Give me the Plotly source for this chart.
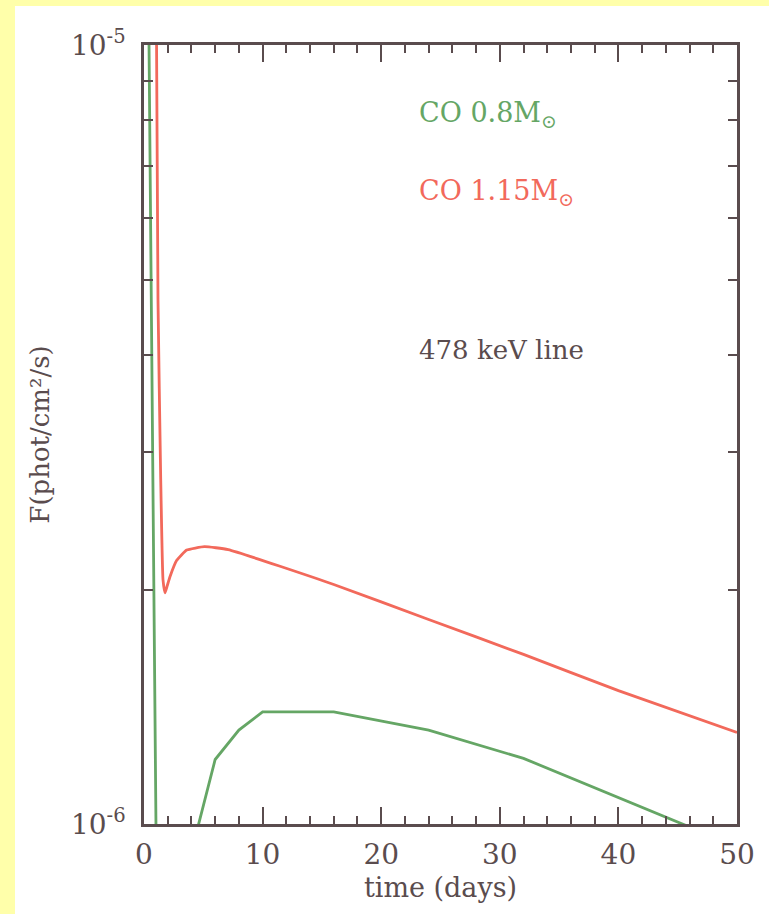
import plotly.graph_objects as go

# Data (time in days, flux in phot/cm^2/s)
green_t = [0.0, 1.05, 2.0, 4.0, 6.0, 8.0, 10.0, 16.0, 24.0, 32.0, 48.0]
green_f = [5.3e-5, 0.85e-6, 0.5e-6, 0.92e-6, 1.21e-6, 1.32e-6, 1.393e-6, 1.393e-6, 1.32e-6, 1.214e-6, 0.963e-6]

red_t = [1.0, 1.18, 1.41, 1.6, 1.77, 1.95, 2.19, 2.76, 3.6, 5.1, 7.1, 16.0, 24.0, 32.0, 40.0, 50.0]
red_f = [1.45e-5, 4.71e-6, 2.77e-6, 2.06e-6, 1.98e-6, 2.02e-6, 2.077e-6, 2.18e-6, 2.247e-6, 2.27e-6, 2.25e-6,
         2.03e-6, 1.83e-6, 1.651e-6, 1.483e-6, 1.311e-6]

x_ticks = [0, 10, 20, 30, 40, 50]
x_minor = [2, 4, 6, 8, 12, 14, 16, 18, 22, 24, 26, 28, 32, 34, 36, 38, 42, 44, 46, 48]
y_ticks = [1e-6, 1e-5]
y_ticktext = ["10<sup>-6</sup>", "10<sup>-5</sup>"]
y_minor = [2e-6, 3e-6, 4e-6, 5e-6, 6e-6, 7e-6, 8e-6, 9e-6]

INK = "#5a4c4e"
RED = "#f2695b"
GREEN = "#65a665"
FONT = "DejaVu Serif"

fig = go.Figure()
fig.add_trace(go.Scatter(x=green_t, y=green_f, mode="lines",
                         line=dict(color=GREEN, width=2.8), showlegend=False))
fig.add_trace(go.Scatter(x=red_t, y=red_f, mode="lines",
                         line=dict(color=RED, width=2.8, shape="spline", smoothing=0.4),
                         showlegend=False))

fig.update_layout(
    width=769, height=914,
    margin=dict(l=144, r=32, t=45, b=90),
    paper_bgcolor="#ffffaa",
    plot_bgcolor="white",
    font=dict(family=FONT, color=INK, size=26),
    showlegend=False,
)

# white panel behind the chart
fig.add_shape(type="rect", xref="paper", yref="paper",
              x0=(15 - 144) / 593, x1=1.2, y0=-0.2, y1=(824 - 6) / 779,
              fillcolor="white", line=dict(width=0), layer="below")

fig.update_xaxes(
    range=[0, 50], tickmode="array", tickvals=x_ticks,
    ticks="inside", ticklen=17, tickwidth=2, tickcolor=INK,
    showline=True, linewidth=2.5, linecolor=INK, mirror="allticks",
    showgrid=False, zeroline=False,
    tickfont=dict(family=FONT, size=28, color=INK),
    ticklabelstandoff=4,
    minor=dict(tickmode="array", tickvals=x_minor, ticks="inside", ticklen=8,
               tickwidth=2, tickcolor=INK, showgrid=False),
    title=dict(text="time (days)", font=dict(family=FONT, size=27, color=INK), standoff=8),
)
fig.update_yaxes(
    type="log", range=[-6, -5], tickmode="array", tickvals=y_ticks, ticktext=y_ticktext,
    ticks="inside", ticklen=9, tickwidth=2, tickcolor=INK,
    showline=True, linewidth=2.5, linecolor=INK, mirror="allticks",
    showgrid=False, zeroline=False,
    tickfont=dict(family=FONT, size=28, color=INK),
    ticklabelstandoff=10,
    minor=dict(tickmode="array", tickvals=y_minor, ticks="inside", ticklen=9,
               tickwidth=2, tickcolor=INK, showgrid=False),
    title=dict(text="F(phot/cm²/s)", font=dict(family=FONT, size=26, color=INK), standoff=14),
)

ann = [
    ("CO 0.8M<sub>⊙</sub>", GREEN, 115, 27),
    ("CO 1.15M<sub>⊙</sub>", RED, 192, 27),
    ("478 keV line", INK, 350, 26),
]
for text, col, ypix, sz in ann:
    fig.add_annotation(text=text, xref="paper", yref="paper",
                       x=(417 - 144) / 593, y=(824 - ypix) / 779,
                       xanchor="left", yanchor="middle", showarrow=False,
                       font=dict(family=FONT, size=sz, color=col))

fig.write_html("out.html")
